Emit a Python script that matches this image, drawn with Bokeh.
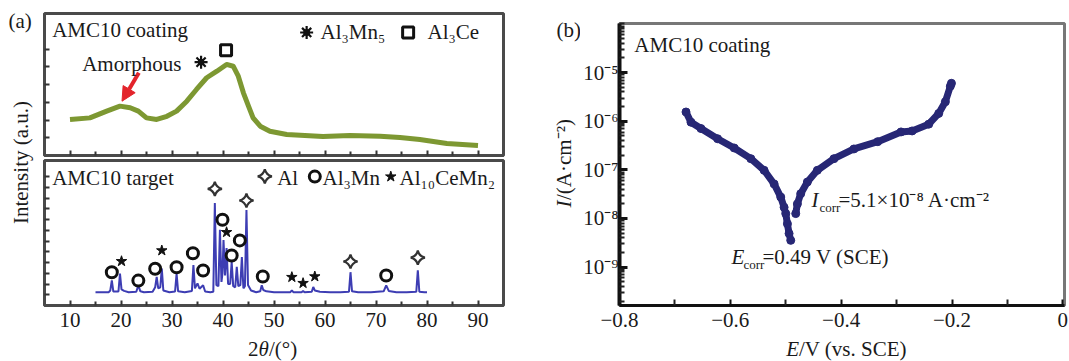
import math
from bokeh.plotting import figure
from bokeh.layouts import row, column
from bokeh.models import (Label, Arrow, NormalHead, FixedTicker, CustomJSTickFormatter,
                          CustomLabelingPolicy, Range1d)
from bokeh.embed import file_html
from bokeh.resources import INLINE

FONT = "Liberation Serif"
TXT = "#1a1a1a"

# ---------------- data ----------------
# (a) top: AMC10 coating XRD (2theta, intensity a.u.)
coat_2theta = [10.0, 13.9, 17.2, 19.8, 21.8, 23.4, 25.0, 27.0, 29.0, 30.9, 32.9, 34.8,
               36.8, 38.8, 40.7, 42.0, 43.0, 44.0, 45.0, 45.9, 47.3, 49.2, 52.5, 59.6,
               64.9, 70.8, 74.7, 78.6, 83.9, 90.0]
coat_int = [2.03, 2.12, 2.50, 2.78, 2.69, 2.50, 2.12, 2.03, 2.21, 2.50, 3.06, 3.72,
            4.38, 4.75, 5.13, 5.03, 4.47, 3.53, 2.78, 2.12, 1.65, 1.37, 1.18, 1.07,
            1.13, 1.09, 1.01, 0.90, 0.68, 0.56]

# (a) bottom: AMC10 target XRD
tgt_2theta = [15.0, 17.6, 17.9, 18.2, 18.5, 19.5, 19.8, 20.1, 20.6, 21.5, 23.0, 23.4, 23.8,
              24.5, 26.2, 26.7, 27.0, 27.3, 27.7, 28.0, 28.3, 29.5, 30.6, 30.9, 31.2, 32.5,
              33.9, 34.2, 34.5, 35.0, 35.4, 36.1, 36.5, 37.5, 38.1, 38.4, 38.7, 39.1, 39.4,
              39.7, 39.9, 40.1, 40.4, 40.7, 41.0, 41.4, 41.7, 42.0, 42.4, 42.7, 43.0, 43.4,
              43.7, 44.0, 44.3, 44.6, 44.9, 45.5, 46.5, 47.3, 47.6, 47.9, 48.5, 50.0, 52.0,
              53.2, 53.5, 53.8, 55.4, 55.7, 56.0, 57.4, 57.7, 58.0, 59.0, 61.0, 63.0, 64.7,
              65.0, 65.3, 66.5, 69.0, 71.5, 72.0, 72.5, 74.0, 76.0, 77.9, 78.2, 78.5, 79.5,
              80.0]
tgt_int = [0.62, 0.62, 0.70, 1.17, 0.65, 0.65, 1.49, 0.75, 0.68, 0.62, 0.64, 0.94, 0.66,
           0.62, 0.64, 0.85, 1.33, 0.80, 0.85, 1.72, 0.70, 0.62, 0.65, 1.49, 0.66, 0.62,
           0.68, 1.88, 0.80, 1.03, 0.78, 0.94, 0.65, 0.62, 0.64, 4.77, 0.95, 0.90, 3.52,
           1.10, 1.50, 3.05, 1.40, 2.67, 1.00, 1.00, 2.03, 0.90, 0.85, 1.80, 0.90, 0.95,
           2.26, 0.80, 0.90, 4.45, 0.95, 0.70, 0.62, 0.66, 0.94, 0.72, 0.66, 0.62, 0.62,
           0.62, 0.70, 0.62, 0.62, 0.68, 0.62, 0.64, 0.86, 0.70, 0.64, 0.62, 0.62, 0.64,
           1.55, 0.66, 0.62, 0.62, 0.66, 0.94, 0.68, 0.62, 0.62, 0.64, 1.64, 0.64, 0.62,
           0.62]

# phase markers (2theta, marker height)
al_x = [38.4, 44.6, 65.0, 78.2]
al_y = [5.43, 4.89, 2.05, 2.23]
al3mn_x = [18.2, 23.4, 26.7, 30.9, 34.1, 36.1, 39.9, 41.7, 43.3, 47.8, 72.0]
al3mn_y = [1.55, 1.16, 1.71, 1.78, 2.43, 1.63, 3.99, 2.33, 3.03, 1.35, 1.40]
al10_x = [20.1, 28.0, 40.7, 53.5, 55.7, 58.0]
al10_y = [2.06, 2.56, 3.41, 1.32, 1.04, 1.35]
al3mn5_x = [35.7]
al3mn5_y = [5.26]
al3ce_x = [40.6]
al3ce_y = [5.93]

# (b) polarization curve: E (V vs SCE), log10 I (A/cm2)
cat_E = [-0.680, -0.671, -0.653, -0.623, -0.593, -0.563, -0.539, -0.521, -0.509, -0.503,
         -0.500, -0.497, -0.494, -0.491]
cat_logI = [-5.81, -6.02, -6.15, -6.36, -6.55, -6.77, -7.01, -7.29, -7.56, -7.77, -7.90,
            -8.11, -8.31, -8.45]
ano_E = [-0.482, -0.479, -0.473, -0.461, -0.443, -0.413, -0.377, -0.334, -0.292, -0.272,
         -0.242, -0.224, -0.212, -0.203, -0.201]
ano_logI = [-7.90, -7.70, -7.49, -7.25, -7.01, -6.77, -6.57, -6.42, -6.22, -6.20, -6.06,
            -5.84, -5.60, -5.28, -5.22]
cat_I = [10 ** v for v in cat_logI]
ano_I = [10 ** v for v in ano_logI]

xa_ticks = [10, 20, 30, 40, 50, 60, 70, 80, 90]
xa_minor = [15, 25, 35, 45, 55, 65, 75, 85]
xb_ticks = [-0.8, -0.6, -0.4, -0.2, 0.0]
xb_minor = [-0.7, -0.5, -0.3, -0.1]
yb_ticks = [1e-9, 1e-8, 1e-7, 1e-6, 1e-5]


def lab(p, text, x, y, size=21, style="normal", align="left", baseline="middle", angle=0.0):
    p.add_layout(Label(x=x, y=y, x_units="screen", y_units="screen", text=text,
                       text_font=FONT, text_font_size=f"{size}px", text_font_style=style,
                       text_align=align, text_baseline=baseline, angle=angle,
                       text_color=TXT))


def base_fig(**kw):
    p = figure(output_backend="svg", toolbar_location=None, background_fill_color="white",
               border_fill_color="white", frame_align=False, **kw)
    p.grid.visible = False
    return p


def text_fig(w, h):
    return base_fig(width=w, height=h, x_range=(0, w), y_range=(0, h),
                    x_axis_location=None, y_axis_location=None, min_border=0,
                    outline_line_color=None)


def hide_labels(ax):
    ax.formatter = CustomJSTickFormatter(code='return "";')
    ax.major_label_text_font_size = "0px"
    ax.major_label_standoff = 0
    ax.major_label_policy = CustomLabelingPolicy(code="""
const ids = Array.from(indices.ones());
for (const i of ids) { indices.unset(i); }
return indices;
""")


# ---------------- left strip (a) ----------------
stripA = text_fig(40, 361)
lab(stripA, "(a)", 8, 341)
lab(stripA, "Intensity (a.u.)", 20.5, 199, align="center", baseline="alphabetic",
    angle=math.pi / 2)


def style_a_axes(p, show_xlabels):
    for ax in (p.xaxis[0], p.yaxis[0]):
        ax.axis_line_color = "#4a4a4a"
        ax.axis_line_width = 3
        ax.major_tick_line_color = "#333333"
        ax.minor_tick_line_color = "#333333"
        ax.major_tick_line_width = 2
        ax.minor_tick_line_width = 2
        ax.major_tick_out = 0
        ax.minor_tick_out = 0
        ax.major_tick_in = 5
        ax.minor_tick_in = 4
    p.xaxis.ticker = FixedTicker(ticks=xa_ticks, minor_ticks=xa_minor)
    hide_labels(p.yaxis[0])
    if show_xlabels:
        p.xaxis.major_label_text_font = FONT
        p.xaxis.major_label_text_font_size = "21px"
        p.xaxis.major_label_text_color = TXT
        p.xaxis.major_label_standoff = 7
    else:
        hide_labels(p.xaxis[0])
    p.outline_line_color = "#4a4a4a"
    p.outline_line_width = 3
    p.outline_line_alpha = 1


# ---------------- (a) top: coating ----------------
pa1 = base_fig(width=468, height=157, x_range=Range1d(5, 95), y_range=Range1d(0, 8),
               min_border_left=4, min_border_right=5, min_border_top=13, min_border_bottom=2)
style_a_axes(pa1, False)
pa1.yaxis.ticker = FixedTicker(ticks=[1, 2, 3, 4, 5, 6])
pa1.line(coat_2theta, coat_int, line_color="#7d9832", line_width=5, line_join="round")
pa1.scatter(al3mn5_x, al3mn5_y, marker="asterisk", size=13, line_color="#111111",
            line_width=2.2)
pa1.scatter(al3mn5_x, al3mn5_y, marker="circle", size=6, color="#111111")
pa1.scatter(al3ce_x, al3ce_y, marker="square", size=11, line_color="#111111",
            line_width=3, fill_color="white")
pa1.add_layout(Arrow(x_start=23.5, y_start=4.66, x_end=20.2, y_end=3.06,
                     line_color="#e3242b", line_width=4,
                     end=NormalHead(size=14, fill_color="#e3242b", line_color="#e3242b")))
lab(pa1, "AMC10 coating", 7.7, 126)
lab(pa1, "Amorphous", 37.7, 92)
# legend
pa1.scatter([56.4], [6.93], marker="asterisk", size=13, line_color="#111111", line_width=2.2)
pa1.scatter([56.4], [6.93], marker="circle", size=6, color="#111111")
pa1.scatter([76.3], [6.93], marker="square", size=11, line_color="#111111", line_width=3,
            fill_color="white")
lab(pa1, "Al\u2083Mn\u2085", 276, 124)
lab(pa1, "Al\u2083Ce", 383, 124)

# ---------------- (a) bottom: target ----------------
pa2 = base_fig(width=468, height=179, x_range=Range1d(5, 95), y_range=Range1d(0, 6.75),
               min_border_left=4, min_border_right=5, min_border_top=3, min_border_bottom=31)
style_a_axes(pa2, True)
pa2.yaxis.ticker = FixedTicker(ticks=[0.5 * k for k in range(1, 13)])
pa2.line(tgt_2theta, tgt_int, line_color="#3d3db3", line_width=2)
pa2.scatter(al_x, al_y, marker="square_pin", angle=math.pi / 4, size=10,
            line_color="#333333", line_width=2.2, fill_color="white")
pa2.scatter(al3mn_x, al3mn_y, marker="circle", size=11, line_color="#111111",
            line_width=3, fill_color="white")
pa2.scatter(al10_x, al10_y, marker="star", size=11, line_color="#111111",
            fill_color="#111111")
lab(pa2, "AMC10 target", 7.7, 128)
pa2.scatter([48.2], [6.01], marker="square_pin", angle=math.pi / 4, size=10,
            line_color="#333333", line_width=2.2, fill_color="white")
pa2.scatter([58.0], [6.0], marker="circle", size=11, line_color="#111111", line_width=3,
            fill_color="white")
pa2.scatter([72.9], [6.0], marker="star", size=11, line_color="#111111", fill_color="#111111")
lab(pa2, "Al", 232.7, 128)
lab(pa2, "Al\u2083Mn", 278, 128)
lab(pa2, "Al\u2081\u2080CeMn\u2082", 355, 128)

# x title 2θ/(°) for (a)
titleA = text_fig(468, 25)
lab(titleA, "2", 207.5, 12.5)
lab(titleA, "\u03b8", 218, 12.5, style="italic")
lab(titleA, "/(\u00b0)", 228.5, 12.5)

# ---------------- strip (b) ----------------
stripB = text_fig(72, 361)
lab(stripB, "(b)", 48, 332)
lab(stripB, "I", 55, 154, style="italic", baseline="alphabetic", angle=math.pi / 2)
lab(stripB, "/(A\u00b7cm\u207b\u00b2)", 55, 161.5, baseline="alphabetic", angle=math.pi / 2)

# ---------------- (b) polarization ----------------
pb = base_fig(width=489, height=336, x_range=Range1d(-0.8, 0.003),
              y_range=Range1d(10 ** -9.79, 10 ** -3.99), y_axis_type="log",
              min_border_left=38, min_border_right=5, min_border_top=23,
              min_border_bottom=31)
pb.outline_line_color = "#777777"
pb.outline_line_width = 3
pb.xaxis.ticker = FixedTicker(ticks=xb_ticks, minor_ticks=xb_minor)
pb.xaxis.formatter = CustomJSTickFormatter(code="""
if (Math.abs(tick) < 1e-9) { return "0"; }
return (tick < 0 ? "\u2212" : "") + Math.abs(tick).toFixed(1);
""")
yb_minor = [m * 10.0 ** k for k in range(-10, -3) for m in range(2, 10)] + [1e-4]
pb.yaxis.ticker = FixedTicker(ticks=yb_ticks, minor_ticks=yb_minor)
pb.yaxis.formatter = CustomJSTickFormatter(code="""
const e = Math.round(Math.log10(tick));
const m = {"-":"\u207b","0":"\u2070","1":"\u00b9","2":"\u00b2","3":"\u00b3","4":"\u2074",
           "5":"\u2075","6":"\u2076","7":"\u2077","8":"\u2078","9":"\u2079"};
return "10" + String(e).split("").map(c => m[c]).join("");
""")
for ax in (pb.xaxis[0], pb.yaxis[0]):
    ax.axis_line_color = "#111111"
    ax.major_tick_line_color = "#111111"
    ax.minor_tick_line_color = "#222222"
    ax.major_tick_out = 0
    ax.minor_tick_out = 0
    ax.major_label_text_font = FONT
    ax.major_label_text_font_size = "21px"
    ax.major_label_text_color = TXT
pb.xaxis.axis_line_width = 3
pb.xaxis.major_tick_in = 6
pb.xaxis.minor_tick_in = 6
pb.xaxis.major_tick_line_width = 2
pb.xaxis.minor_tick_line_width = 2
pb.xaxis.major_label_standoff = 7
pb.yaxis.axis_line_width = 4
pb.yaxis.major_tick_in = 8
pb.yaxis.minor_tick_in = 5
pb.yaxis.major_tick_line_width = 3
pb.yaxis.minor_tick_line_width = 2
pb.yaxis.major_label_standoff = 1

NAVY = "#272775"
pb.line(cat_E, cat_I, line_color=NAVY, line_width=7, line_join="round", line_cap="round")
pb.line(ano_E, ano_I, line_color=NAVY, line_width=7, line_join="round", line_cap="round")
pb.scatter(cat_E, cat_I, size=8, color=NAVY)
pb.scatter(ano_E, ano_I, size=8, color=NAVY)

lab(pb, "AMC10 coating", 14.8, 261)
# Icorr annotation
lab(pb, "I", 192, 106, style="italic")
lab(pb, "corr", 200, 98, size=13)
lab(pb, "=5.1\u00d710\u207b\u2078 A\u00b7cm\u207b\u00b2", 219, 106)
# Ecorr annotation
lab(pb, "E", 112, 49, style="italic")
lab(pb, "corr", 124, 41, size=13)
lab(pb, "=0.49 V (SCE)", 143, 49)

# x title E/V (vs. SCE)
titleB = text_fig(489, 25)
lab(titleB, "E", 205.7, 12.5, style="italic")
lab(titleB, "/V (vs. SCE)", 218.5, 12.5)

layout = row(stripA, column(pa1, pa2, titleA), stripB, column(pb, titleB))
open("out.html", "w").write(file_html(layout, INLINE))
